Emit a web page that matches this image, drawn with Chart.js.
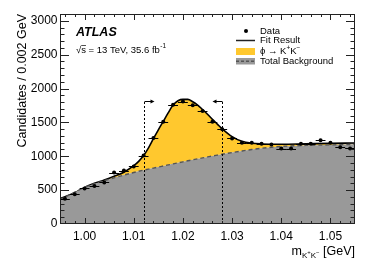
<!DOCTYPE html>
<html>
<head>
<meta charset="utf-8">
<script src="https://cdn.jsdelivr.net/npm/chart.js@4/dist/chart.umd.min.js"></script>
<style>
  body { margin: 0; background: #fff; }
  canvas { display: block; }
</style>
</head>
<body>
<canvas id="grafico" width="374" height="268"></canvas>
<script>
// datos
const dataMass = [0.996, 0.998, 1.000, 1.002, 1.004, 1.006, 1.008, 1.010, 1.012, 1.014,
                  1.016, 1.018, 1.020, 1.022, 1.024, 1.026, 1.028, 1.030, 1.032, 1.034,
                  1.036, 1.038, 1.040, 1.042, 1.044, 1.046, 1.048, 1.050, 1.052, 1.054];
const dataCounts = [372, 440, 525, 562, 614, 760, 788, 850, 1010, 1270,
                    1511, 1760, 1808, 1753, 1669, 1511, 1397, 1263, 1199, 1199,
                    1184, 1175, 1114, 1114, 1184, 1184, 1238, 1199, 1132, 1116];
const binHalf = 0.001;

const fitMass = [0.995, 0.998, 1.000, 1.002, 1.004, 1.006, 1.008, 1.010, 1.011, 1.012,
                 1.013, 1.014, 1.015, 1.016, 1.017, 1.018, 1.019, 1.020, 1.021, 1.022,
                 1.023, 1.024, 1.025, 1.026, 1.027, 1.028, 1.030, 1.032, 1.034, 1.036,
                 1.040, 1.045, 1.050, 1.055];
const fitTotal = [378, 460, 540, 600, 650, 705, 765, 860, 925, 1010,
                  1125, 1260, 1390, 1515, 1640, 1755, 1820, 1840, 1840, 1805,
                  1755, 1690, 1620, 1545, 1475, 1405, 1290, 1220, 1192, 1182,
                  1178, 1184, 1190, 1195];
const fitBkg = [357, 470, 540, 595, 640, 682, 722, 760, 778, 795,
                810, 825, 840, 856, 872, 888, 903, 918, 933, 948,
                962, 976, 990, 1004, 1017, 1030, 1055, 1078, 1100, 1118,
                1145, 1160, 1168, 1176];

const xTicks = [1.00, 1.01, 1.02, 1.03, 1.04, 1.05];
const yTicks = [0, 500, 1000, 1500, 2000, 2500, 3000];
const windowEdges = [1.012, 1.028];
const arrowTop = 1820;

const FONT = '"Liberation Sans", Arial, Helvetica, sans-serif';
const amarillo = '#ffc82e';
const gris = '#999999';

function pts(xs, ys) {
  return xs.map((x, i) => ({ x: x, y: ys[i] }));
}

const atlasPlugin = {
  id: 'atlasPlugin',
  afterDatasetsDraw(chart) {
    const ctx = chart.ctx;
    const sx = chart.scales.x, sy = chart.scales.y;
    ctx.save();
    // barras de error horizontales
    ctx.strokeStyle = '#000';
    ctx.lineWidth = 1;
    dataMass.forEach((m, i) => {
      const y = Math.round(sy.getPixelForValue(dataCounts[i])) + 0.5;
      ctx.beginPath();
      ctx.moveTo(sx.getPixelForValue(m - binHalf), y);
      ctx.lineTo(sx.getPixelForValue(m + binHalf), y);
      ctx.stroke();
    });
    // ventana de masa
    ctx.setLineDash([2, 2]);
    windowEdges.forEach(w => {
      const x = Math.round(sx.getPixelForValue(w)) + 0.5;
      ctx.beginPath();
      ctx.moveTo(x, sy.getPixelForValue(0));
      ctx.lineTo(x, sy.getPixelForValue(arrowTop));
      ctx.stroke();
    });
    ctx.setLineDash([]);
    windowEdges.forEach((w, i) => {
      const x = Math.round(sx.getPixelForValue(w)) + 0.5;
      const y = Math.round(sy.getPixelForValue(arrowTop)) + 0.5;
      const dir = i === 0 ? 1 : -1;
      const x2 = x + dir * 8;
      ctx.beginPath();
      ctx.moveTo(x, y);
      ctx.lineTo(x2, y);
      ctx.stroke();
      ctx.beginPath();
      ctx.moveTo(x2 + dir * 2, y);
      ctx.lineTo(x2 - dir * 2, y - 2);
      ctx.lineTo(x2 - dir * 2, y + 2);
      ctx.closePath();
      ctx.fill();
    });
    ctx.restore();
  },
  afterDraw(chart) {
    const ctx = chart.ctx;
    const a = chart.chartArea;
    const sx = chart.scales.x, sy = chart.scales.y;
    ctx.save();
    ctx.strokeStyle = '#222';
    ctx.lineWidth = 1;
    ctx.strokeRect(a.left + 0.5, a.top + 0.5, a.right - a.left - 1, a.bottom - a.top - 1);

    // ticks eje x (abajo y arriba)
    ctx.beginPath();
    for (let k = 498; k <= 527; k++) {
      const v = k * 0.002;
      const x = Math.round(sx.getPixelForValue(v)) + 0.5;
      const major = k % 5 === 0;
      const len = major ? 6 : 3;
      ctx.moveTo(x, a.bottom); ctx.lineTo(x, a.bottom - len);
      ctx.moveTo(x, a.top); ctx.lineTo(x, a.top + len);
    }
    // ticks eje y (izquierda y derecha)
    for (let v = 100; v <= 3000; v += 100) {
      const y = Math.round(sy.getPixelForValue(v)) + 0.5;
      const len = v % 500 === 0 ? 9 : 4.5;
      ctx.moveTo(a.left, y); ctx.lineTo(a.left + len, y);
      ctx.moveTo(a.right, y); ctx.lineTo(a.right - len, y);
    }
    ctx.stroke();

    // etiquetas
    ctx.fillStyle = '#000';
    ctx.font = '12px ' + FONT;
    ctx.textAlign = 'center';
    ctx.textBaseline = 'middle';
    xTicks.forEach(v => ctx.fillText(v.toFixed(2), sx.getPixelForValue(v), a.bottom + 13));
    ctx.textAlign = 'right';
    yTicks.forEach(v => ctx.fillText(String(v), a.left - 2.5, sy.getPixelForValue(v)));

    // titulo eje y
    ctx.save();
    ctx.translate(23, a.top);
    ctx.rotate(-Math.PI / 2);
    ctx.font = '12.5px ' + FONT;
    ctx.textAlign = 'right';
    ctx.fillText('Candidates / 0.002 GeV', 0, 0);
    ctx.restore();

    // titulo eje x: m_{K+K-} [GeV]
    ctx.textAlign = 'left';
    ctx.textBaseline = 'alphabetic';
    const partes = [
      { t: 'm', f: '12.5px ', dy: 0 },
      { t: 'K', f: '8px ', dy: 3 },
      { t: '+', f: '6px ', dy: -1 },
      { t: 'K', f: '8px ', dy: 3 },
      { t: '\u2212', f: '6px ', dy: -1 },
      { t: ' [GeV]', f: '12.5px ', dy: 0 }
    ];
    let ancho = 0;
    partes.forEach(p => { ctx.font = p.f + FONT; ancho += ctx.measureText(p.t).width; });
    let xt = a.right - ancho;
    partes.forEach(p => {
      ctx.font = p.f + FONT;
      ctx.fillText(p.t, xt, 255 + p.dy);
      xt += ctx.measureText(p.t).width;
    });

    // ATLAS
    ctx.textBaseline = 'middle';
    ctx.font = 'italic bold 12.5px ' + FONT;
    ctx.fillText('ATLAS', 76, 33);
    ctx.font = '9.5px ' + FONT;
    const raiz = '\u221A';
    ctx.fillText(raiz, 76, 50);
    let xr = 76 + ctx.measureText(raiz).width;
    ctx.fillText('s', xr, 50);
    ctx.beginPath();
    ctx.moveTo(xr, 45.5);
    ctx.lineTo(xr + ctx.measureText('s').width, 45.5);
    ctx.lineWidth = 0.8;
    ctx.stroke();
    xr += ctx.measureText('s').width;
    const txt = ' = 13 TeV, 35.6 fb';
    ctx.fillText(txt, xr, 50);
    xr += ctx.measureText(txt).width;
    ctx.font = '6.5px ' + FONT;
    ctx.fillText('-1', xr + 0.5, 46);

    // leyenda
    ctx.font = '9.5px ' + FONT;
    ctx.fillStyle = '#000';
    ctx.beginPath();
    ctx.arc(246, 31, 2, 0, 2 * Math.PI);
    ctx.fill();
    ctx.fillText('Data', 260, 31);

    ctx.lineWidth = 1.5;
    ctx.beginPath();
    ctx.moveTo(236, 40.5); ctx.lineTo(255, 40.5);
    ctx.stroke();
    ctx.fillText('Fit Result', 260, 40.5);

    ctx.fillStyle = amarillo;
    ctx.fillRect(236, 48, 19, 7);
    ctx.fillStyle = '#000';
    let xl = 260;
    const sig = [
      { t: '\u03D5 \u2192 K', f: '9.5px ', dy: 0 },
      { t: '+', f: '6.5px ', dy: -3 },
      { t: 'K', f: '9.5px ', dy: 0 },
      { t: '\u2212', f: '6.5px ', dy: -3 }
    ];
    sig.forEach(p => {
      ctx.font = p.f + FONT;
      ctx.fillText(p.t, xl, 51.5 + p.dy);
      xl += ctx.measureText(p.t).width;
    });

    ctx.fillStyle = gris;
    ctx.fillRect(236, 58, 19, 6.5);
    ctx.strokeStyle = '#555';
    ctx.setLineDash([3, 2]);
    ctx.beginPath();
    ctx.moveTo(236, 61.2); ctx.lineTo(255, 61.2);
    ctx.stroke();
    ctx.setLineDash([]);
    ctx.fillStyle = '#000';
    ctx.font = '9.5px ' + FONT;
    ctx.fillText('Total Background', 260, 61);
    ctx.restore();
  }
};

const ctx = document.getElementById('grafico').getContext('2d');
new Chart(ctx, {
  type: 'line',
  data: {
    datasets: [
      {
        label: 'Data',
        data: pts(dataMass, dataCounts),
        showLine: false,
        pointRadius: 2,
        pointBackgroundColor: '#000',
        pointBorderWidth: 0,
        order: 0
      },
      {
        label: 'Fit Result',
        data: pts(fitMass, fitTotal),
        borderColor: '#000',
        borderWidth: 1.6,
        pointRadius: 0,
        cubicInterpolationMode: 'monotone',
        fill: { target: 2 },
        backgroundColor: amarillo,
        order: 2
      },
      {
        label: 'Total Background',
        data: pts(fitMass, fitBkg),
        borderColor: '#555',
        borderWidth: 1.4,
        borderDash: [4, 3],
        pointRadius: 0,
        cubicInterpolationMode: 'monotone',
        fill: 'origin',
        backgroundColor: gris,
        order: 1
      }
    ]
  },
  options: {
    responsive: false,
    animation: false,
    devicePixelRatio: 1,
    layout: { padding: { left: 60, right: 19, top: 14, bottom: 44 } },
    scales: {
      x: { type: 'linear', min: 0.995, max: 1.055, display: false },
      y: { min: 0, max: 3100, display: false }
    },
    plugins: {
      legend: { display: false },
      tooltip: { enabled: false }
    }
  },
  plugins: [atlasPlugin]
});
</script>
</body>
</html>
